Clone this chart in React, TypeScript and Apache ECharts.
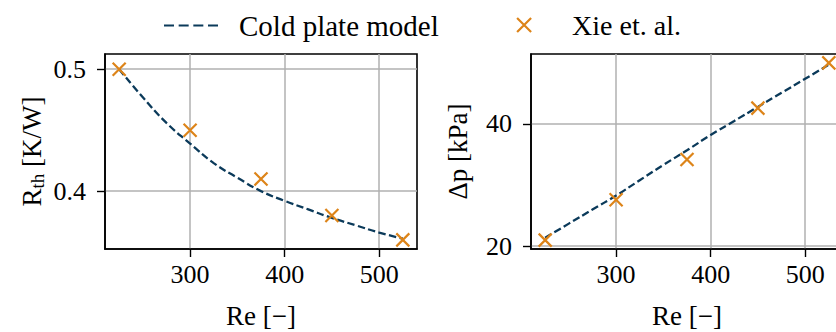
import React, { useEffect, useRef } from 'react';
import * as echarts from 'echarts';

// ---- data ----
const reXie = [225, 300, 375, 450, 525];
const rthXie = [0.5, 0.45, 0.41, 0.38, 0.36];
const dpXie = [21.0, 27.6, 34.2, 42.6, 50.0];

const reModel = [225, 250, 275, 300, 325, 350, 375, 400, 425, 450, 475, 500, 525];
const rthModel = [0.5, 0.477, 0.456, 0.439, 0.423, 0.411, 0.4, 0.392, 0.385, 0.378, 0.372, 0.366, 0.361];
const dpModel = [21.4, 23.7, 26.0, 28.3, 30.8, 33.3, 35.7, 38.2, 40.5, 42.8, 45.1, 47.4, 49.7];

const xTicks = [300, 400, 500];
const rthTicks = [0.4, 0.5];
const dpTicks = [20, 40];

const modelName = 'Cold plate model';
const xieName = 'Xie et. al.';

// ---- style ----
const FONT = '"Liberation Serif", "Times New Roman", serif';
const BLUE = '#0b3a5a';
const ORANGE = '#dd8419';
const GRIDC = '#b0b0b0';
const X_ICON = 'path://M0,0L10,10M10,0L0,10';
const DASH_ICON =
  'path://M0,0h10v2h-10z M14.67,0h10v2h-10z M29.33,0h10v2h-10z M44,0h10v2h-10z';

const zip = (xs: number[], ys: number[]) => xs.map((x, i) => [x, ys[i]]);

const xAxisFor = (gridIndex: number) => ({
  type: 'value',
  gridIndex,
  min: 210,
  max: 540,
  name: 'Re [\u2212]',
  nameLocation: 'middle',
  nameGap: 53,
  nameTextStyle: { fontFamily: FONT, fontSize: 27, color: '#000' },
  axisLine: { show: true, lineStyle: { color: '#000', width: 1.6 } },
  axisTick: { show: true, length: 8, lineStyle: { color: '#000', width: 1.4 }, customValues: xTicks },
  axisLabel: { customValues: xTicks, margin: 12, fontFamily: FONT, fontSize: 26, color: '#000' },
  splitLine: { show: true, lineStyle: { color: GRIDC, width: 1.5 } },
});

const yAxisFor = (gridIndex: number, min: number, max: number, ticks: number[], name: string, nameGap: number) => ({
  type: 'value',
  gridIndex,
  min,
  max,
  name,
  nameLocation: 'middle',
  nameRotate: 90,
  nameGap,
  nameTextStyle: {
    fontFamily: FONT,
    fontSize: 27,
    color: '#000',
    rich: {
      m: { fontFamily: FONT, fontSize: 27, color: '#000' },
      s: { fontFamily: FONT, fontSize: 19, color: '#000', padding: [12, 0, 0, 0] },
    },
  },
  axisLine: { show: true, lineStyle: { color: '#000', width: 1.6 } },
  axisTick: { show: true, length: 8, lineStyle: { color: '#000', width: 1.4 }, customValues: ticks },
  axisLabel: { customValues: ticks, margin: 19, fontFamily: FONT, fontSize: 26, color: '#000' },
  splitLine: { show: true, lineStyle: { color: GRIDC, width: 1.5 } },
});

const lineSeries = (idx: number, ys: number[]) => ({
  type: 'line',
  name: modelName,
  xAxisIndex: idx,
  yAxisIndex: idx,
  data: zip(reModel, ys),
  symbol: 'none',
  smooth: true,
  lineStyle: { color: BLUE, width: 2.3, type: [7.4, 3.4] },
  itemStyle: { color: BLUE },
  z: 2,
});

const scatterSeries = (idx: number, ys: number[]) => ({
  type: 'scatter',
  name: xieName,
  xAxisIndex: idx,
  yAxisIndex: idx,
  data: zip(reXie, ys),
  symbol: X_ICON,
  symbolSize: 13,
  itemStyle: { color: 'rgba(0,0,0,0)', borderColor: ORANGE, borderWidth: 2.2, opacity: 1 },
  z: 3,
});

export default function App() {
  const ref = useRef<HTMLDivElement>(null);
  useEffect(() => {
    if (!ref.current) return;
    const chart = echarts.init(ref.current, undefined, { renderer: 'svg' });
    chart.setOption({
      animation: false,
      backgroundColor: '#fff',
      legend: [
        {
          left: 164,
          top: 11,
          padding: 0,
          itemWidth: 54,
          itemHeight: 2,
          selectedMode: false,
          data: [{ name: modelName, icon: DASH_ICON, itemStyle: { color: BLUE, borderWidth: 0, opacity: 1 } }],
          formatter: '{g| }{name}',
          textStyle: { fontFamily: FONT, fontSize: 29, color: '#000', rich: { g: { width: 16 } } },
        },
        {
          left: 516,
          top: 11,
          padding: 0,
          itemWidth: 14,
          itemHeight: 14,
          selectedMode: false,
          data: [
            {
              name: xieName,
              icon: X_ICON,
              itemStyle: { color: 'rgba(0,0,0,0)', borderColor: ORANGE, borderWidth: 2.2, opacity: 1 },
            },
          ],
          formatter: '{g| }{name}',
          textStyle: { fontFamily: FONT, fontSize: 28, color: '#000', rich: { g: { width: 36 } } },
        },
      ],
      grid: [
        {
          left: 105, top: 54, width: 312, height: 195, show: true,
          borderColor: '#000', borderWidth: 1.6, backgroundColor: 'transparent',
          outerBoundsMode: 'none', containLabel: false,
        },
        {
          left: 531, top: 54, width: 312, height: 195, show: true,
          borderColor: '#000', borderWidth: 1.6, backgroundColor: 'transparent',
          outerBoundsMode: 'none', containLabel: false,
        },
      ],
      xAxis: [xAxisFor(0), xAxisFor(1)],
      yAxis: [
        yAxisFor(0, 0.3525, 0.5125, rthTicks, '{m|R}{s|th}{m| [K/W]}', 58),
        yAxisFor(1, 19.55, 51.45, dpTicks, '\u0394p [kPa]', 60),
      ],
      series: [lineSeries(0, rthModel), scatterSeries(0, rthXie), lineSeries(1, dpModel), scatterSeries(1, dpXie)],
    });
    return () => chart.dispose();
  }, []);
  return (
    <div
      ref={ref}
      style={{ position: 'absolute', left: 0, top: 0, width: 836, height: 332, overflow: 'hidden' }}
    />
  );
}
